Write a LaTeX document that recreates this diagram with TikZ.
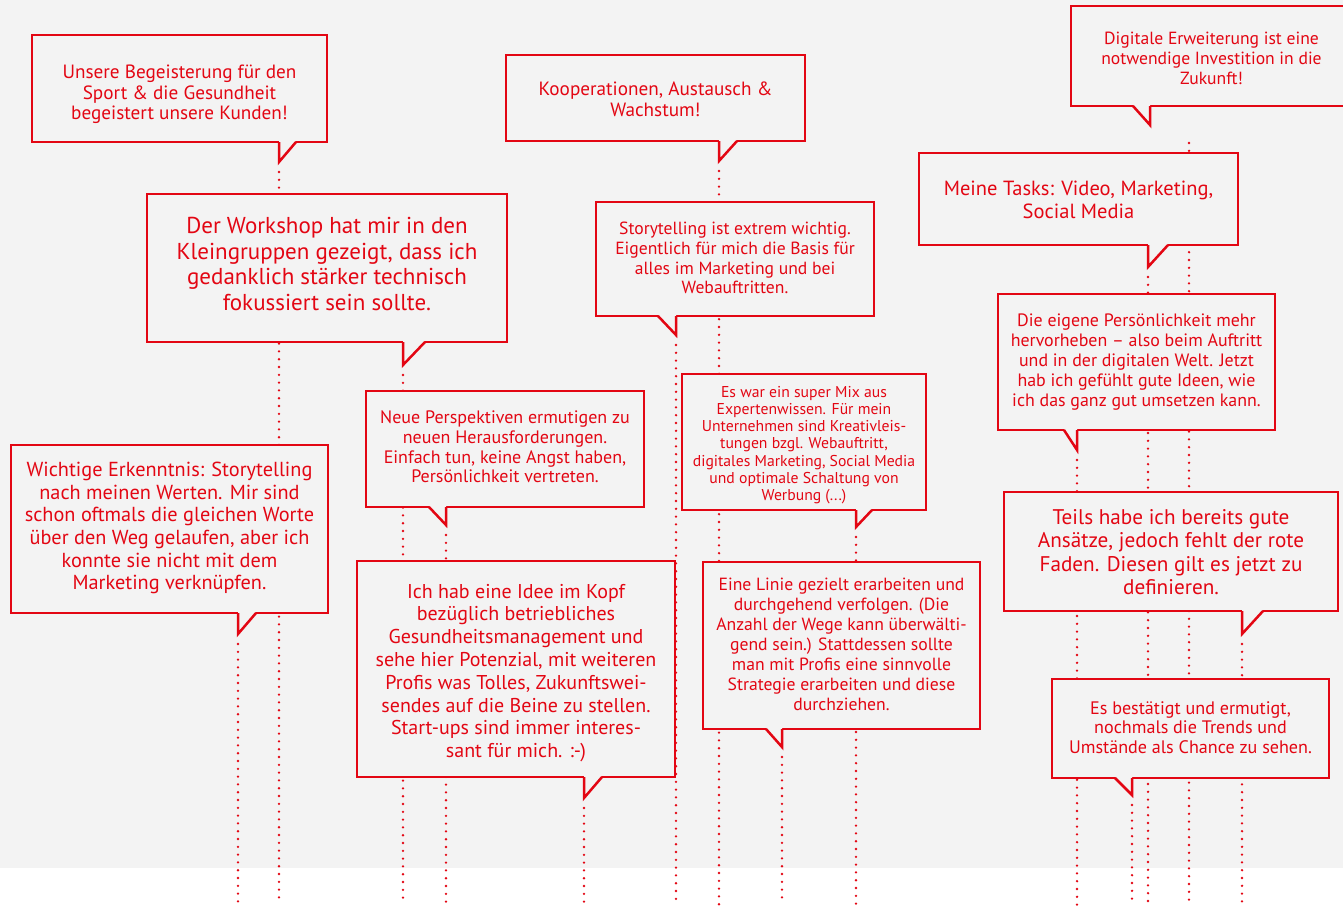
\documentclass[tikz,border=0pt]{standalone}
\usepackage{fontspec}
\setmainfont{PT Sans}
\definecolor{rd}{RGB}{227,6,19}
\definecolor{bgc}{RGB}{243,243,243}
\pgfdeclarelayer{back}
\pgfdeclarelayer{lines}
\pgfsetlayers{back,lines,main}
\tikzset{
  bubble/.style={draw=rd, line width=2.5pt, fill=bgc, inner sep=0pt, rectangle},
  bubbletext/.style={text=rd, inner sep=0pt, align=center},
  tailline/.style={draw=rd, line width=2.5pt},
  dotline/.style={draw=rd, line width=2.6pt, line cap=round, dash pattern=on 0pt off 7.8pt},
}
\newcommand\fs[2]{\fontsize{#1}{#2}\selectfont}
\def\fsz{17}\def\lsz{20}\def\dy{0}
% #1 name, #2 x1, #3 y1, #4 x2, #5 y2, #6 tail vertical x, #7 tail diagonal x, #8 tip y, #9 text
\newcommand\mybub[9]{%
  \node[bubble, minimum width={(#4-#2)*1pt}, minimum height={(#5-#3)*1pt}] (#1) at ({(#2+#4)/2},{(#3+#5)/2}) {};
  \fill[bgc] (#6,#5-1.4) -- (#6,#8) -- (#7,#5-1.4) -- cycle;
  \draw[tailline] (#6,#5) -- (#6,#8) -- (#7,#5);
  \coordinate (#1-tip) at (#6,#8);
  \node[bubbletext, font=\fs{\fsz}{\lsz}] (#1-text) at ([yshift={-1pt*(\dy)}]#1.center) {#9};
}
\begin{document}
\begin{tikzpicture}[x=1pt,y=-1pt]
\useasboundingbox (0,0) rectangle (1343,905);
\begin{pgfonlayer}{back}
  \fill[bgc] (0,0) rectangle (1343,868);
  \fill[white] (0,868) rectangle (1343,905);
\end{pgfonlayer}
\coordinate (bottom) at (0,905);
\coordinate (free) at (1189,143);

\def\fsz{19.2}\def\lsz{20.5}\def\dy{6}
\mybub{b1}{32}{35}{327}{142}{279}{296}{162}{Unsere Begeisterung für den\\Sport \& die Gesundheit\\begeistert unsere Kunden!}
\def\fsz{23}\def\lsz{25.5}\def\dy{-4}
\mybub{b2}{147}{194}{507}{342}{403}{425}{365}{Der Workshop hat mir in den\\Kleingruppen gezeigt, dass ich\\gedanklich stärker technisch\\fokussiert sein sollte.}
\def\fsz{20.3}\def\lsz{22.7}\def\dy{-1}
\mybub{wi}{11}{445}{328}{613}{238}{256}{634}{Wichtige Erkenntnis: Storytelling\\nach meinen Werten. Mir sind\\schon oftmals die gleichen Worte\\über den Weg gelaufen, aber ich\\konnte sie nicht mit dem\\Marketing verknüpfen.}
\def\fsz{18}\def\lsz{19.7}\def\dy{-2}
\mybub{ne}{366}{391}{644}{507}{446}{429}{525}{Neue Perspektiven ermutigen zu\\neuen Herausforderungen.\\Einfach tun, keine Angst haben,\\Persönlichkeit vertreten.}
\def\fsz{20}\def\lsz{22.8}\def\dy{4}
\mybub{ih}{357}{561}{675}{777}{584}{602}{798}{Ich hab eine Idee im Kopf\\bezüglich betriebliches\\Gesundheitsmanagement und\\sehe hier Potenzial, mit weiteren\\Profis was Tolles, Zukunftswei-\\sendes auf die Beine zu stellen.\\Start-ups sind immer interes-\\sant für mich. :-)}
\def\fsz{19.2}\def\lsz{21}\def\dy{1}
\mybub{ko}{506}{55}{805}{141}{719}{737}{161}{Kooperationen, Austausch \&\\Wachstum!}
\def\fsz{17.6}\def\lsz{19.7}\def\dy{-1}
\mybub{st}{596}{202}{874}{316}{676}{658}{335}{Storytelling ist extrem wichtig.\\Eigentlich für mich die Basis für\\alles im Marketing und bei\\Webauftritten.}
\def\fsz{15.7}\def\lsz{17.2}\def\dy{3}
\mybub{ew}{682}{374}{926}{510}{856}{872}{527}{Es war ein super Mix aus\\Expertenwissen. Für mein\\Unternehmen sind Kreativleis-\\tungen bzgl. Webauftritt,\\digitales Marketing, Social Media\\und optimale Schaltung von\\Werbung (...)}
\def\fsz{17.65}\def\lsz{20}\def\dy{-1}
\mybub{el}{703}{562}{980}{729}{782}{766}{747}{Eine Linie gezielt erarbeiten und\\durchgehend verfolgen. (Die\\Anzahl der Wege kann überwälti-\\gend sein.) Stattdessen sollte\\man mit Profis eine sinnvolle\\Strategie erarbeiten und diese\\durchziehen.}
\def\fsz{17.6}\def\lsz{20}\def\dy{2}
\mybub{di}{1071}{6}{1352}{106}{1150}{1133}{125}{Digitale Erweiterung ist eine\\notwendige Investition in die\\Zukunft!}
\def\fsz{20.5}\def\lsz{23}\def\dy{1}
\mybub{me}{919}{153}{1238}{245}{1148}{1168}{267}{Meine Tasks: Video, Marketing,\\Social Media}
\def\fsz{17.9}\def\lsz{20}\def\dy{0}
\mybub{de}{998}{294}{1275}{430}{1077}{1064}{450}{Die eigene Persönlichkeit mehr\\hervorheben – also beim Auftritt\\und in der digitalen Welt. Jetzt\\hab ich gefühlt gute Ideen, wie\\ich das ganz gut umsetzen kann.}
\def\fsz{21.2}\def\lsz{23.5}\def\dy{0.5}
\mybub{te}{1004}{492}{1338}{611}{1242}{1263}{634}{Teils habe ich bereits gute\\Ansätze, jedoch fehlt der rote\\Faden. Diesen gilt es jetzt zu\\definieren.}
\def\fsz{18.1}\def\lsz{19.7}\def\dy{-1}
\mybub{eb}{1052}{679}{1329}{778}{1132}{1115}{795}{Es bestätigt und ermutigt,\\nochmals die Trends und\\Umstände als Chance zu sehen.}

\begin{pgfonlayer}{lines}
  \foreach \t in {b1,b2,wi,ne,ih,ko,st,ew,el,me,de,te,eb}{
    \draw[dotline, shorten <=10pt] (\t-tip) -- (\t-tip |- bottom);
  }
  \draw[dotline] (free) -- (free |- bottom);
\end{pgfonlayer}
\end{tikzpicture}
\end{document}
